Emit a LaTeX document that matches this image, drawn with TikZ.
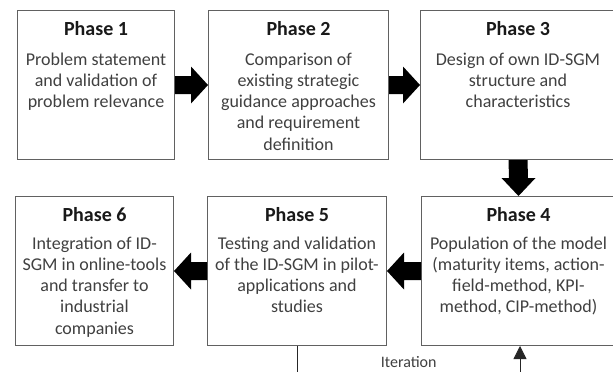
\documentclass[tikz,border=0pt]{standalone}
\usepackage{fontspec}
\setmainfont{Carlito}
\usetikzlibrary{calc,arrows.meta}
\tikzset{
 box/.style={draw=black!62, line width=1pt, rectangle, inner sep=0pt, minimum height=149pt, anchor=north west},
 head/.style={font=\fontsize{20}{24}\selectfont\bfseries, text=black!90, anchor=base, inner sep=0pt},
 body/.style={font=\fontsize{18}{21.3}\selectfont, text=black!75, anchor=base, inner sep=0pt},
 blk/.style={fill=black},
 iter/.style={draw=black!85, line width=0.8pt},
 itertext/.style={font=\fontsize{16}{19}\selectfont, text=black!75, inner sep=0pt}
}
\newcommand\linesblock[1]{\begin{tabular}[t]{@{}c@{}}#1\end{tabular}}
\newcommand\blkright[2]{\fill[blk] ($(#1)+(0,9)$) -- ($(#2)+(-17,9)$) -- ($(#2)+(-17,18.5)$) -- (#2) -- ($(#2)+(-17,-18.5)$) -- ($(#2)+(-17,-9)$) -- ($(#1)+(0,-9)$) -- cycle;}
\newcommand\blkleft[2]{\fill[blk] ($(#1)+(0,9)$) -- ($(#2)+(17,9)$) -- ($(#2)+(17,18.5)$) -- (#2) -- ($(#2)+(17,-18.5)$) -- ($(#2)+(17,-9)$) -- ($(#1)+(0,-9)$) -- cycle;}
\newcommand\blkdown[2]{\fill[blk] ($(#1)+(-9.5,0)$) -- ($(#2)+(-9.5,18)$) -- ($(#2)+(-17,18)$) -- (#2) -- ($(#2)+(17,18)$) -- ($(#2)+(9.5,18)$) -- ($(#1)+(9.5,0)$) -- cycle;}
\begin{document}
\begin{tikzpicture}[x=1pt,y=1pt]
\useasboundingbox (0,0) rectangle (613,-372);
\fill[white] (0,0) rectangle (613,-372);
\clip (0,0) rectangle (613,-372);

% boxes
\node[box, minimum width=157pt] (p1) at (17,-10) {};
\node[box, minimum width=180pt] (p2) at (208,-10) {};
\node[box, minimum width=195pt] (p3) at (420,-10) {};
\node[box, minimum width=194pt] (p4) at (421,-196) {};
\node[box, minimum width=179pt] (p5) at (207,-196) {};
\node[box, minimum width=158pt] (p6) at (15,-196) {};

% headings
\node[head] (h1) at ([yshift=-25.7pt]p1.north) {Phase 1};
\node[head] (h2) at ([yshift=-25.7pt]p2.north) {Phase 2};
\node[head] (h3) at ([yshift=-25.7pt]p3.north) {Phase 3};
\node[head] (h4) at ([yshift=-25.7pt]p4.north) {Phase 4};
\node[head] (h5) at ([yshift=-25.7pt]p5.north) {Phase 5};
\node[head] (h6) at ([yshift=-25.7pt]p6.north) {Phase 6};

% bodies
\node[body] (t1) at ([yshift=-55pt]p1.north) {\linesblock{Problem statement\\and validation of\\problem relevance}};
\node[body] (t2) at ([yshift=-55pt]p2.north) {\linesblock{Comparison of\\existing strategic\\guidance approaches\\and requirement\\definition}};
\node[body] (t3) at ([yshift=-55pt]p3.north) {\linesblock{Design of own ID-SGM\\structure and\\characteristics}};
\node[body] (t4) at ([yshift=-53pt]p4.north) {\linesblock{Population of the model\\(maturity items, action-\\field-method, KPI-\\method, CIP-method)}};
\node[body] (t5) at ([yshift=-53pt]p5.north) {\linesblock{Testing and validation\\of the ID-SGM in pilot-\\applications and\\studies}};
\node[body] (t6) at ([yshift=-53pt]p6.north) {\linesblock{Integration of ID-\\SGM in online-tools\\and transfer to\\industrial\\companies}};

% block arrows
\blkright{p1.east}{p2.west}
\blkright{p2.east}{p3.west}
\blkdown{p3.south}{p4.north}
\blkleft{p4.west}{p5.east}
\blkleft{p5.west}{p6.east}

% iteration loop
\coordinate (rb) at (520,-405);
\draw[iter, -{Triangle[width=13pt,length=13pt]}] (p5.south) -- (p5.south |- rb) -- (rb) -- (p4.south -| rb);
\node[itertext] (itl) at (408.7,-362) {Iteration};
\end{tikzpicture}
\end{document}
